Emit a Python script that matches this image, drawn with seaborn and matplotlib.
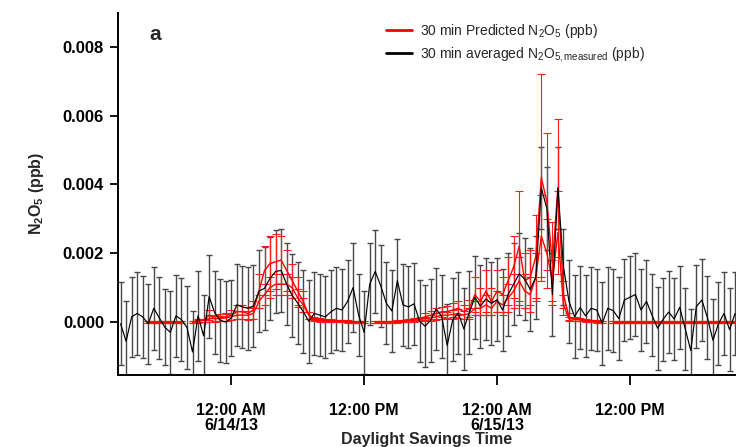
import numpy as np
import pandas as pd
import matplotlib
matplotlib.use("Agg")
import matplotlib.pyplot as plt
from matplotlib.lines import Line2D
import seaborn as sns

nan = np.nan

# 30-minute time base, 6/13/13 14:00 through 6/15/13 21:30
times = pd.date_range("2013-06-13 14:00", periods=112, freq="30min")

# 30 min averaged measured N2O5 (ppb) and its uncertainty
measured = [
    -0.00005, -0.00056, 0.00015, 0.00025, 0.00015, -0.00005, 0.0004, 0.00012,
    -0.00015, -0.0003, 0.00018, 0.00007, -0.00016, -0.00087, 0.00018, -0.0004,
    0.00074, 0.00027, 0.00005, 0.0, 0.00012, 0.0005, 0.00044, 0.0004,
    0.00047, 0.0009, 0.00098, 0.00127, 0.00147, 0.0015, 0.0011, 0.00077,
    0.00055, 0.0003, 0.00002, 0.00025, 0.0002, 0.00015, 0.0003, 0.0004,
    0.00035, 0.0006, 0.001, 0.0002, -0.0003, 0.0011, 0.00147, 0.00105,
    0.00055, 0.00032, 0.0012, 0.0005, 0.00044, 0.00053, 0.00003, -0.00012,
    0.00005, 0.00038, 0.00016, -0.00068, 0.00007, 0.00026, -0.0002, 0.00028,
    0.00072, 0.00046, 0.00067, 0.00054, 0.00065, 0.00035, 0.0008, 0.0011,
    0.0014, 0.00125, 0.00095, 0.0013, 0.0039, 0.0033, 0.0008, 0.0039,
    0.0016, 0.0006, 0.00016, 0.00042, 0.00018, 0.0004, 0.00035, -0.00004,
    0.0004, 0.00033, 0.0001, 0.00064, 0.00072, 0.0008, 0.00035, 0.0006,
    0.0002, -0.00018, 0.00008, 0.00029, 0.00009, 0.00043, -0.0002, -0.00083,
    0.00045, 0.00064, 0.00013, -0.00053, -0.00005, 0.00025, -0.00022, 0.00025,
]
measured_err = [
    0.0012, 0.00117, 0.00117, 0.0012, 0.0012, 0.00117, 0.0012, 0.0012,
    0.0011, 0.0012, 0.0012, 0.0012, 0.0012, 0.0012, 0.0013, 0.0012,
    0.0012, 0.0012, 0.0012, 0.0012, 0.0011, 0.0012, 0.0012, 0.0012,
    0.0012, 0.0012, 0.0012, 0.0012, 0.0012, 0.0012, 0.0012, 0.0012,
    0.0012, 0.0012, 0.0012, 0.0012, 0.0012, 0.0012, 0.0012, 0.0012,
    0.0012, 0.0012, 0.0013, 0.0012, 0.0012, 0.0012, 0.0012, 0.0012,
    0.0012, 0.0012, 0.0012, 0.0012, 0.0012, 0.0012, 0.0012, 0.0012,
    0.0012, 0.0012, 0.0012, 0.0012, 0.0012, 0.0012, 0.0012, 0.0012,
    0.0012, 0.0012, 0.0012, 0.0012, 0.0012, 0.0012, 0.0012, 0.0012,
    0.0012, 0.0012, 0.0012, 0.0012, 0.0012, 0.0012, 0.0012, 0.0012,
    0.0011, 0.0012, 0.0012, 0.0012, 0.0012, 0.0012, 0.0012, 0.0012,
    0.0012, 0.0012, 0.0012, 0.0012, 0.0012, 0.0012, 0.0012, 0.0012,
    0.0012, 0.0012, 0.0012, 0.0012, 0.0012, 0.0012, 0.0012, 0.0012,
    0.0012, 0.0012, 0.0012, 0.0012, 0.0012, 0.0012, 0.0012, 0.0012,
]

# 30 min predicted N2O5 (ppb), two model traces, with uncertainties
pred_a = [
    nan, nan, nan, nan, nan, 0.0, 0.0, 0.0,
    0.0, 0.0, 0.0, 0.0, nan, 0.0, 0.00003, 0.00005,
    0.0002, 0.0001, 0.00012, 0.00015, 0.0002, 0.0003, 0.0003, 0.00025,
    0.00035, 0.0009, 0.0015, 0.0017, 0.00175, 0.0018, 0.0015, 0.0012,
    0.0009, 0.0006, 0.0002, 0.0001, 0.00008, 0.00006, 0.00005, 0.00004,
    0.00003, 0.00002, 0.00001, 0.0, 0.0, nan, 0.0, 0.0,
    0.0, 0.00001, 0.00002, 0.00003, 0.00005, 0.00008, 0.0001, 0.00015,
    0.0002, 0.00025, 0.0003, 0.0003, 0.00035, 0.0004, 0.0003, 0.0004,
    0.0008, 0.0006, 0.0009, 0.0006, 0.0009, 0.0008, 0.0012, 0.0016,
    0.0022, 0.0012, 0.0013, 0.0019, 0.0042, 0.0035, 0.0017, 0.0039,
    0.0008, 0.00015, 0.0001, 0.00008, 0.00006, 0.00004, 0.00002, 0.0,
    nan, 0.0, 0.0, 0.0, 0.0, 0.0, 0.0, 0.0,
    0.0, 0.0, 0.0, 0.0, 0.0, 0.0, 0.0, 0.0,
    0.0, 0.0, 0.0, 0.0, 0.0, 0.0, 0.0, 0.0,
]
pred_a_err = [
    nan, nan, nan, nan, nan, 0.00003, 0.00003, 0.00003,
    0.00003, 0.00003, 0.00003, 0.00003, nan, 0.00004, 0.00005, 0.00005,
    0.00015, 0.0001, 0.0001, 0.00012, 0.00015, 0.0002, 0.0002, 0.0002,
    0.00025, 0.0005, 0.0007, 0.0008, 0.0008, 0.0007, 0.0006, 0.0005,
    0.0004, 0.0003, 0.0001, 0.00005, 0.00004, 0.00004, 0.00003, 0.00003,
    0.00003, 0.00003, 0.00003, 0.00003, 0.00003, nan, 0.00003, 0.00003,
    0.00003, 0.00003, 0.00003, 0.00004, 0.00004, 0.00005, 0.00005, 0.0001,
    0.00012, 0.00015, 0.00015, 0.00018, 0.0002, 0.0002, 0.0002, 0.00025,
    0.0005, 0.0004, 0.0006, 0.0004, 0.0006, 0.0005, 0.0007, 0.0009,
    0.0016, 0.0008, 0.0008, 0.0012, 0.003, 0.002, 0.0012, 0.002,
    0.0004, 0.0001, 0.00006, 0.00005, 0.00004, 0.00003, 0.00003, 0.00003,
    nan, 0.00003, 0.00003, 0.00003, 0.00003, 0.00003, 0.00003, 0.00003,
    0.00003, 0.00003, 0.00003, 0.00003, 0.00003, 0.00003, 0.00003, 0.00003,
    0.00003, 0.00003, 0.00003, 0.00003, 0.00003, 0.00003, 0.00003, 0.00003,
]
pred_b = [
    nan, nan, nan, nan, nan, 0.0, 0.0, 0.0,
    0.0, 0.0, 0.0, 0.0, nan, 0.0, 0.00003, 0.00005,
    0.0001, 0.0001, 0.0001, 0.00012, 0.00015, 0.0002, 0.0002, 0.0002,
    0.00025, 0.0006, 0.0008, 0.001, 0.0011, 0.0011, 0.0011, 0.001,
    0.0007, 0.0005, 0.0002, 0.00006, 0.00005, 0.00004, 0.00003, 0.00003,
    0.00002, 0.00001, 0.0, 0.0, 0.0, nan, 0.0, 0.0,
    0.0, 0.0, 0.00001, 0.00002, 0.00003, 0.00005, 0.00007, 0.0001,
    0.00012, 0.00015, 0.0002, 0.0002, 0.00022, 0.00025, 0.0002, 0.00025,
    0.0004, 0.0004, 0.0005, 0.0004, 0.0006, 0.0005, 0.0007, 0.0009,
    0.0012, 0.0009, 0.0008, 0.0013, 0.0025, 0.002, 0.0012, 0.0026,
    0.0005, 0.0001, 0.00008, 0.00006, 0.00004, 0.00003, 0.00001, 0.0,
    nan, 0.0, 0.0, 0.0, 0.0, 0.0, 0.0, 0.0,
    0.0, 0.0, 0.0, 0.0, 0.0, 0.0, 0.0, 0.0,
    0.0, 0.0, 0.0, 0.0, 0.0, 0.0, 0.0, 0.0,
]
pred_b_err = [
    nan, nan, nan, nan, nan, 0.00003, 0.00003, 0.00003,
    0.00003, 0.00003, 0.00003, 0.00003, nan, 0.00003, 0.00004, 0.00004,
    0.0001, 0.00008, 0.00008, 0.0001, 0.0001, 0.00012, 0.00012, 0.00012,
    0.00015, 0.0002, 0.0003, 0.0003, 0.0003, 0.0003, 0.0003, 0.0003,
    0.00025, 0.0002, 0.0001, 0.00004, 0.00004, 0.00003, 0.00003, 0.00003,
    0.00003, 0.00003, 0.00003, 0.00003, 0.00003, nan, 0.00003, 0.00003,
    0.00003, 0.00003, 0.00003, 0.00003, 0.00003, 0.00004, 0.00004, 0.00006,
    0.00008, 0.0001, 0.0001, 0.0001, 0.00012, 0.00012, 0.00012, 0.00015,
    0.0002, 0.0002, 0.0003, 0.0002, 0.0003, 0.0003, 0.0004, 0.0005,
    0.0007, 0.0005, 0.0005, 0.0007, 0.0012, 0.001, 0.0006, 0.0012,
    0.0003, 0.00006, 0.00004, 0.00004, 0.00003, 0.00003, 0.00003, 0.00003,
    nan, 0.00003, 0.00003, 0.00003, 0.00003, 0.00003, 0.00003, 0.00003,
    0.00003, 0.00003, 0.00003, 0.00003, 0.00003, 0.00003, 0.00003, 0.00003,
    0.00003, 0.00003, 0.00003, 0.00003, 0.00003, 0.00003, 0.00003, 0.00003,
]

tick_times = pd.to_datetime(["2013-06-14 00:00", "2013-06-14 12:00",
                             "2013-06-15 00:00", "2013-06-15 12:00"])
tick_labels = ["12:00 AM\n6/14/13", "12:00 PM", "12:00 AM\n6/15/13", "12:00 PM"]
y_ticks = [0.0, 0.002, 0.004, 0.006, 0.008]
y_tick_labels = ["0.000", "0.002", "0.004", "0.006", "0.008"]
legend_labels = [r"30 min Predicted N$_2$O$_5$ (ppb)",
                 r"30 min averaged N$_2$O$_{5,\mathrm{measured}}$ (ppb)"]

sns.set_theme(style="ticks")
plt.rcParams["font.family"] = ["Liberation Sans", "DejaVu Sans"]
plt.rcParams["mathtext.fontset"] = "custom"
plt.rcParams["mathtext.rm"] = "Liberation Sans"
plt.rcParams["mathtext.it"] = "Liberation Sans:italic"
plt.rcParams["mathtext.bf"] = "Liberation Sans:bold"


def runs(values):
    """Label each contiguous non-missing stretch so gaps stay open."""
    out, k, gap = [], 0, True
    for v in values:
        if np.isnan(v):
            out.append(-1)
            gap = True
        else:
            if gap:
                k += 1
            gap = False
            out.append(k)
    return out


pred_df = pd.concat([
    pd.DataFrame({"time": times, "value": pred_a, "err": pred_a_err,
                  "run": [f"a{r}" for r in runs(pred_a)]}),
    pd.DataFrame({"time": times, "value": pred_b, "err": pred_b_err,
                  "run": [f"b{r}" for r in runs(pred_b)]}),
]).dropna()
meas_df = pd.DataFrame({"time": times, "value": measured, "err": measured_err})

fig = plt.figure(figsize=(7.36, 4.47), dpi=100)
ax = fig.add_axes([0.1603, 0.161, 0.8397, 0.8106])

# measured uncertainty bars
ax.errorbar(meas_df["time"], meas_df["value"], yerr=meas_df["err"], fmt="none",
            ecolor="#484848", elinewidth=1.0, capsize=2.2, capthick=1.0, zorder=1)
# predicted uncertainty bars
ax.errorbar(pred_df["time"], pred_df["value"], yerr=pred_df["err"], fmt="none",
            ecolor="#ff1a1a", elinewidth=0.8, capsize=2.8, capthick=0.8, zorder=2)

sns.lineplot(data=pred_df, x="time", y="value", units="run", estimator=None,
             color="#ff0000", linewidth=1.0, ax=ax, zorder=3, legend=False)
sns.lineplot(data=meas_df, x="time", y="value", color="black", linewidth=0.85,
             ax=ax, zorder=4, legend=False)

ax.set_xlim(pd.Timestamp("2013-06-13 13:46"), pd.Timestamp("2013-06-15 21:35"))
ax.set_ylim(-0.00154, 0.00899)
ax.set_xticks(tick_times)
ax.set_xticklabels(tick_labels, fontweight="bold", fontsize=11.5, linespacing=1.05)
ax.set_yticks(y_ticks)
ax.set_yticklabels(y_tick_labels, fontweight="bold", fontsize=12)

for side in ("top", "right"):
    ax.spines[side].set_visible(False)
for side in ("left", "bottom"):
    ax.spines[side].set_linewidth(1.4)
    ax.spines[side].set_color("black")
ax.tick_params(axis="y", direction="out", length=6, width=1.3, pad=4, colors="black")
ax.tick_params(axis="x", direction="out", length=7, width=1.3, pad=13, colors="black")

ax.set_xlabel("Daylight Savings Time", fontweight="bold", fontsize=11.5, labelpad=-1)
ax.set_ylabel(r"$\mathbf{N_2O_5}$ (ppb)", fontweight="bold", fontsize=11.5, labelpad=12)

ax.text(0.061, 0.94, "a", transform=ax.transAxes, fontsize=15,
        fontweight="bold", ha="center", va="center")

handles = [Line2D([0], [0], color="#ff0000", lw=2.0),
           Line2D([0], [0], color="black", lw=2.0)]
ax.legend(handles, legend_labels, loc="upper left", bbox_to_anchor=(0.433, 0.975),
          frameon=False, fontsize=10, handlelength=1.9, handletextpad=0.6,
          labelspacing=0.35, borderpad=0, borderaxespad=0)

fig.savefig("out.png", dpi=100)
